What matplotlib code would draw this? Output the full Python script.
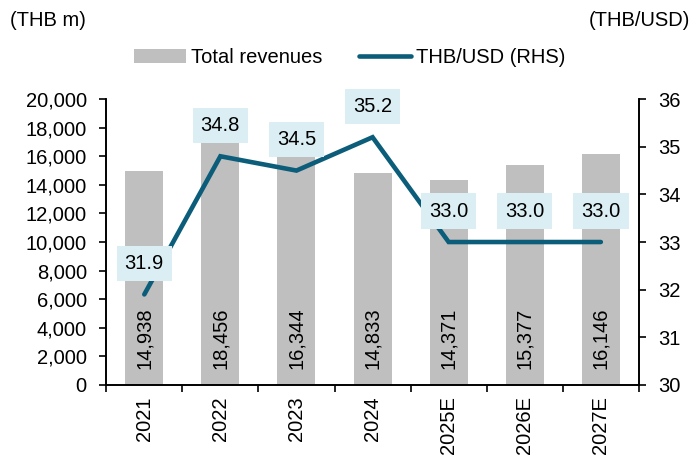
import numpy as np
import matplotlib.pyplot as plt

years = ['2021', '2022', '2023', '2024', '2025E', '2026E', '2027E']
revenues = [14938, 18456, 16344, 14833, 14371, 15377, 16146]
thb_usd = [31.9, 34.8, 34.5, 35.2, 33.0, 33.0, 33.0]

plt.rcParams['font.family'] = ['Liberation Sans', 'DejaVu Sans']
fs = 14.5

fig = plt.figure(figsize=(6.99, 4.61), dpi=100)
ax = fig.add_axes([0.152, 0.165, 0.762, 0.62])
ax2 = ax.twinx()

x = np.arange(len(years))
bars = ax.bar(x, revenues, width=0.5, color='#BFBFBF', label='Total revenues', zorder=1)
for xi, v in zip(x, revenues):
    ax.text(xi, 1150, '{:,}'.format(v), rotation=90, ha='center', va='bottom', fontsize=fs, color='black')

ax.set_ylim(0, 20000)
ax.set_yticks(np.arange(0, 20001, 2000))
ax.set_yticklabels(['{:,}'.format(t) for t in range(0, 20001, 2000)], fontsize=fs)
ax.set_xlim(-0.5, len(years) - 0.5)
ax.set_xticks(np.arange(-0.5, len(years), 1.0))
ax.set_xticklabels([])
ax.set_xticks(x, minor=True)
ax.set_xticklabels(years, minor=True, rotation=90, fontsize=fs)
ax.tick_params(axis='x', which='minor', length=0, pad=8)
ax.tick_params(axis='x', which='major', length=5, width=1.2)
ax.tick_params(axis='y', length=5, width=1.2, pad=9)

line, = ax2.plot(x, thb_usd, color='#0B5D7A', linewidth=3.3, solid_capstyle='round',
                 solid_joinstyle='miter', label='THB/USD (RHS)', zorder=3)
ax2.set_ylim(30, 36)
ax2.set_yticks(np.arange(30, 37, 1))
ax2.tick_params(axis='y', labelsize=fs, length=5, width=1.2, pad=9)
for xi, v in zip(x, thb_usd):
    ax2.annotate('{:.1f}'.format(v), (xi, v), xytext=(0, 31), textcoords='offset pixels',
                 ha='center', va='center', fontsize=fs,
                 bbox=dict(boxstyle='square,pad=0.4', facecolor='#DAEEF3', edgecolor='none'))

for a in (ax, ax2):
    a.spines['top'].set_visible(False)
    for s in ('left', 'right', 'bottom'):
        a.spines[s].set_linewidth(1.2)

fig.text(0.014, 0.955, '(THB m)', fontsize=fs, ha='left', va='center')
fig.text(0.988, 0.955, '(THB/USD)', fontsize=fs, ha='right', va='center')

handles = [bars, line]
fig.legend(handles, ['Total revenues', 'THB/USD (RHS)'], loc='center', bbox_to_anchor=(0.5, 0.875),
           ncol=2, frameon=False, fontsize=fs, handlelength=2.6, columnspacing=1.8, handletextpad=0.25)

fig.savefig('out.png', dpi=100)
